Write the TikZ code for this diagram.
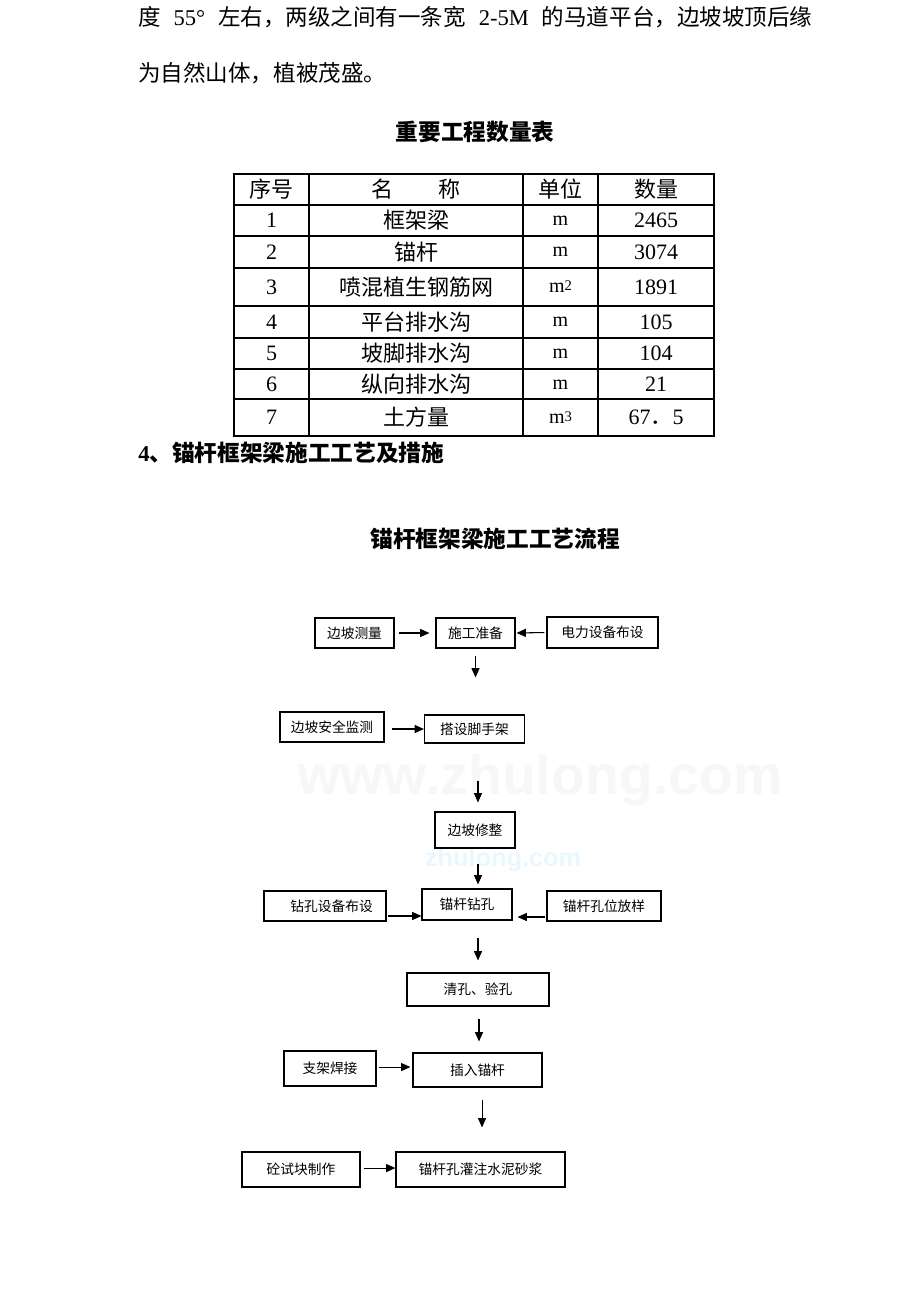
\documentclass[tikz,border=0pt]{standalone}
\usepackage{fontspec}
\setmainfont{Liberation Serif}
\setsansfont{Liberation Sans}
\newfontfamily\cjk{Noto Sans CJK SC}
\usetikzlibrary{arrows.meta}
\begin{document}
\begin{tikzpicture}[x=0.75pt,y=-0.75pt,
  box/.style 2 args={draw, line width=0.8pt, inner sep=0pt, minimum width=#1*0.75pt, minimum height=#2*0.75pt, font=\cjk\fontsize{10.3}{12}\selectfont},
  arr/.style={-{Triangle[length=7pt,width=6pt]}, line width=0.8pt},
  body/.style={inner sep=0pt, font=\cjk\fontsize{16.9}{20}\selectfont},
  cell/.style={inner sep=0pt, font=\fontsize{16.5}{20}\selectfont},
  ttl/.style={inner sep=0pt, font=\cjk\bfseries\fontsize{17}{20}\selectfont},
  tline/.style={line width=0.9pt}
]
\useasboundingbox[fill=white] (0,0) rectangle (920,1302);

% watermarks
\node[inner sep=0pt, text=black!3, font=\sffamily\bfseries\fontsize{41.6}{44}\selectfont] (wm1) at (540,780) {www.zhulong.com};
\node[inner sep=0pt, text=cyan!9, font=\sffamily\bfseries\fontsize{19}{20}\selectfont] (wm2) at (503,860) {zhulong.com};

% body text
\node[body, anchor=west] (p1) at (138,17) {\makebox[505.5pt][s]{度 {\rmfamily 55°} 左右，两级之间有一条宽 {\rmfamily 2-5M} 的马道平台，边坡坡顶后缘}};
\node[body, anchor=west] (p2) at (138,73) {为自然山体，植被茂盛。};

% table title
\node[ttl] (tt) at (475,132) {重要工程数量表};

% table
\draw[tline] (234,174) rectangle (714,436);
\foreach \x in {309,523,598} \draw[tline] (\x,174) -- (\x,436);
\foreach \y in {205,236,268,306,338,369,399} \draw[tline] (234,\y) -- (714,\y);

\node[cell] (h1) at (271.5,189.5) {\cjk 序号};
\node[cell] (h2) at (416,189.5) {\cjk 名\hspace{34.5pt}称};
\node[cell] (h3) at (560.5,189.5) {\cjk 单位};
\node[cell] (h4) at (656,189.5) {\cjk 数量};

\newcommand{\mm}{{\fontsize{15}{16}\selectfont m}}
\newcommand{\msup}[1]{{\fontsize{15}{16}\selectfont m}{\fontsize{11}{12}\selectfont\raisebox{1.5pt}{#1}}}

\node[cell] (r1a) at (271.5,220.5) {1};
\node[cell] (r1b) at (416,220.5) {\cjk 框架梁};
\node[cell] (r1c) at (560.5,220.5) {\mm};
\node[cell] (r1d) at (656,220.5) {2465};

\node[cell] (r2a) at (271.5,252) {2};
\node[cell] (r2b) at (416,252) {\cjk 锚杆};
\node[cell] (r2c) at (560.5,252) {\mm};
\node[cell] (r2d) at (656,252) {3074};

\node[cell] (r3a) at (271.5,287) {3};
\node[cell] (r3b) at (416,287) {\cjk 喷混植生钢筋网};
\node[cell] (r3c) at (560.5,287) {\msup{2}};
\node[cell] (r3d) at (656,287) {1891};

\node[cell] (r4a) at (271.5,322) {4};
\node[cell] (r4b) at (416,322) {\cjk 平台排水沟};
\node[cell] (r4c) at (560.5,322) {\mm};
\node[cell] (r4d) at (656,322) {105};

\node[cell] (r5a) at (271.5,353.5) {5};
\node[cell] (r5b) at (416,353.5) {\cjk 坡脚排水沟};
\node[cell] (r5c) at (560.5,353.5) {\mm};
\node[cell] (r5d) at (656,353.5) {104};

\node[cell] (r6a) at (271.5,384.5) {6};
\node[cell] (r6b) at (416,384.5) {\cjk 纵向排水沟};
\node[cell] (r6c) at (560.5,384.5) {\mm};
\node[cell] (r6d) at (656,384.5) {21};

\node[cell] (r7a) at (271.5,417.5) {7};
\node[cell] (r7b) at (416,417.5) {\cjk 土方量};
\node[cell] (r7c) at (560.5,417.5) {\msup{3}};
\node[cell] (r7d) at (656,417.5) {67{\cjk ．}5};

% headings
\node[ttl, anchor=west] (sec) at (138,453) {{\rmfamily\bfseries 4}、锚杆框架梁施工工艺及措施};
\node[ttl] (ft) at (495,539) {锚杆框架梁施工工艺流程};

% flowchart boxes
\node[box={79}{30}] (a1) at (354.5,633) {边坡测量};
\node[box={79}{30}] (a2) at (475.5,633) {施工准备};
\node[box={111}{31}] (a3) at (602.5,632.5) {电力设备布设};
\node[box={104}{30}] (b1) at (332,727) {边坡安全监测};
\node[box={100}{28}] (b2) at (474.5,729) {搭设脚手架};
\node[box={80}{36}] (c) at (475,830) {边坡修整};
\node[box={122}{30}] (d1) at (325,906) {\hspace*{10pt}钻孔设备布设};
\node[box={90}{31}] (d2) at (467,904.5) {锚杆钻孔};
\node[box={114}{30}] (d3) at (604,906) {锚杆孔位放样};
\node[box={142}{33}] (e) at (478,989.5) {清孔、验孔};
\node[box={92}{35}] (f1) at (330,1068.5) {支架焊接};
\node[box={129}{34}] (f2) at (477.5,1070) {插入锚杆};
\node[box={118}{35}] (g1) at (301,1169.5) {砼试块制作};
\node[box={169}{35}] (g2) at (480.5,1169.5) {锚杆孔灌注水泥砂浆};

% helper coordinates
\coordinate (b2d) at ([xshift=2.6pt]b2.south);
\coordinate (cd) at ([xshift=2.25pt]c.south);
\coordinate (d12) at ([yshift=-7.5pt]d1.east);
\coordinate (d32) at ([yshift=-8.25pt]d3.west);
\coordinate (d2d) at ([xshift=8.25pt]d2.south);
\coordinate (ed) at ([xshift=0.75pt]e.south);
\coordinate (f12) at ([yshift=1.1pt]f1.east);
\coordinate (f2d) at ([xshift=3.4pt]f2.south);
\coordinate (g12) at ([yshift=1.1pt]g1.east);

% connectors
\draw[arr, shorten <=3pt, shorten >=4.5pt] (a1.east) -- (a2.west);
\draw[arr, shorten <=1.5pt, shorten >=0.75pt] (a3.west) -- (a2.east);
\draw[arr, shorten <=5.25pt, shorten >=27.75pt] (a2.south) -- (a2.south |- b2.north);
\draw[arr, shorten <=5.25pt] (b1.east |- b2.west) -- (b2.west);
\draw[arr, shorten <=27.75pt, shorten >=6.75pt] (b2d) -- (b2d |- c.north);
\draw[arr, shorten <=11.25pt, shorten >=3pt] (cd) -- (cd |- d2.north);
\draw[arr, shorten <=0.75pt] (d12) -- (d12 -| d2.west);
\draw[arr, shorten <=0.75pt, shorten >=3.75pt] (d32) -- (d32 -| d2.east);
\draw[arr, shorten <=12.75pt, shorten >=9pt] (d2d) -- (d2d |- e.north);
\draw[arr, shorten <=9pt, shorten >=8.25pt] (ed) -- (ed |- f2.north);
\draw[arr, shorten <=1.5pt, shorten >=1.5pt] (f12) -- (f12 -| f2.west);
\draw[arr, shorten <=9pt, shorten >=18pt] (f2d) -- (f2d |- g2.north);
\draw[arr, shorten <=2.25pt] (g12) -- (g12 -| g2.west);
\end{tikzpicture}
\end{document}
